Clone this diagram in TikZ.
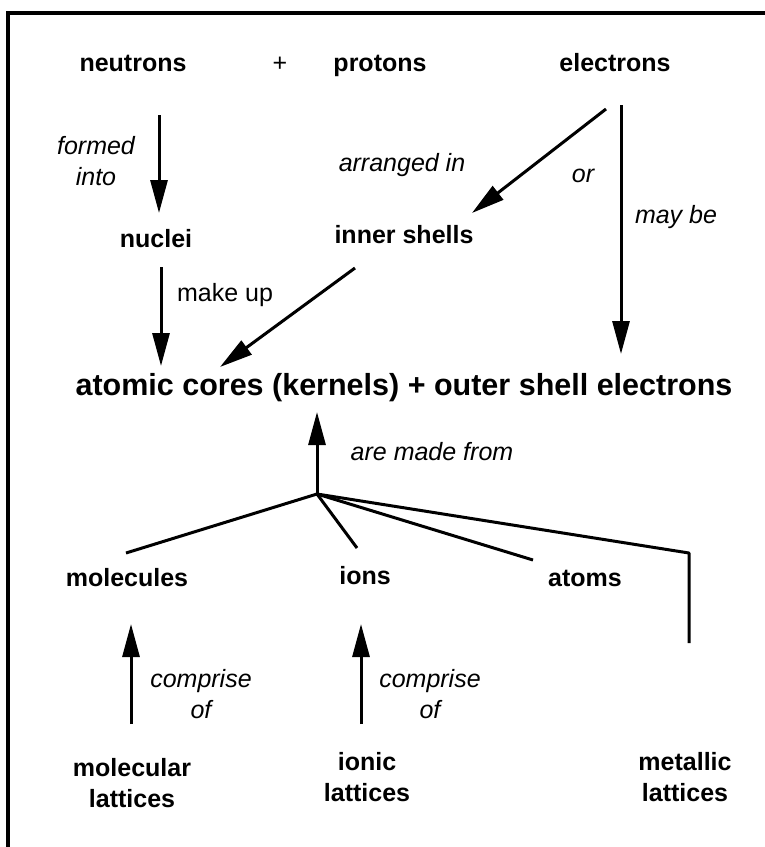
\documentclass[tikz,border=0pt]{standalone}
\usepackage{fontspec}
\setmainfont{Liberation Sans}
\usetikzlibrary{arrows.meta}
\begin{document}
\begin{tikzpicture}[x=1pt,y=-1pt,
  lbl/.style={font=\fontsize{25}{31}\selectfont\bfseries, inner sep=0pt, align=center},
  big/.style={font=\fontsize{30.5}{36}\selectfont\bfseries, inner sep=0pt},
  rel/.style={font=\fontsize{25}{31}\selectfont\itshape, inner sep=0pt, align=center},
  relup/.style={font=\fontsize{25}{31}\selectfont, inner sep=0pt},
  conn/.style={line width=3pt, line join=round},
  arr/.style={conn, -{Triangle[length=33pt,width=17pt]}},
]
\useasboundingbox (0,0) rectangle (765,847);
\clip (0,0) rectangle (765,847);
\draw[line width=3.5pt] (8,900) -- (8,13) -- (800,13);

% top row
\node[lbl, anchor=base] (neutrons) at (133,71) {neutrons};
\node[relup, anchor=base] (plus) at (280,71) {+};
\node[lbl, anchor=base] (protons) at (380,71) {protons};
\node[lbl, anchor=base] (electrons) at (615,71) {electrons};

% middle row
\node[lbl] (nuclei) at (156,239) {nuclei};
\node[lbl] (inner) at (404,235) {inner shells};
\node[big] (cores) at (404,388) {atomic cores (kernels) + outer shell electrons};

% relation labels
\node[rel] (formed) at (96,161) {formed\\into};
\node[rel] (arranged) at (402,165) {arranged in};
\node[rel] (or) at (583,176) {or};
\node[rel] (maybe) at (676,217) {may be};
\node[relup] (makeup) at (225,295) {make up};
\node[rel] (madefrom) at (432,452) {are made from};

% bottom rows
\node[lbl] (molecules) at (127,578) {molecules};
\node[lbl] (ions) at (365,576) {ions};
\node[lbl] (atoms) at (585,578) {atoms};
\node[rel] (comp1) at (201,694) {comprise\\of};
\node[rel] (comp2) at (430,694) {comprise\\of};
\node[lbl] (mollat) at (132,783) {molecular\\lattices};
\node[lbl] (ionlat) at (367,777) {ionic\\lattices};
\node[lbl] (metlat) at (685,777) {metallic\\lattices};

% connector end points
\coordinate (n1) at (159,115);
\coordinate (n2) at (159,213);
\coordinate (e1) at (606,109);
\coordinate (e2) at (472,213);
\coordinate (e3) at (621,105);
\coordinate (e4) at (621,354);
\coordinate (u1) at (161,267);
\coordinate (u2) at (161,366);
\coordinate (i1) at (355,268);
\coordinate (i2) at (220,367);
\coordinate (hub) at (317,494);
\coordinate (c2) at (317,412);
\coordinate (bm) at (126,553);
\coordinate (bi) at (357,548);
\coordinate (ba) at (533,560);
\coordinate (bk) at (689,553);
\coordinate (bk2) at (689,643);
\coordinate (m1) at (131,724);
\coordinate (m2) at (131,624);
\coordinate (j1) at (361,724);
\coordinate (j2) at (361,624);

\draw[arr] (n1) -- (n2);
\draw[arr] (e1) -- (e2);
\draw[arr] (e3) -- (e4);
\draw[arr] (u1) -- (u2);
\draw[arr] (i1) -- (i2);
\draw[arr] (hub) -- (c2);
\draw[conn] (bm) -- (hub) -- (bi);
\draw[conn] (hub) -- (ba);
\draw[conn] (hub) -- (bk) -- (bk2);
\draw[arr] (m1) -- (m2);
\draw[arr] (j1) -- (j2);
\end{tikzpicture}
\end{document}
